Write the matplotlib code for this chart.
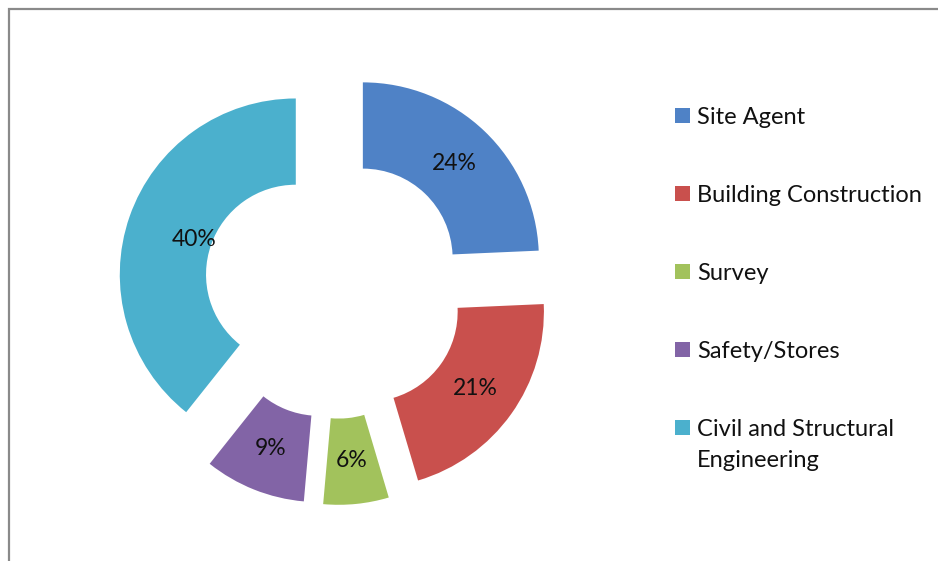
import matplotlib
matplotlib.use("Agg")
import matplotlib.pyplot as plt
import numpy as np
from matplotlib.patches import Rectangle

# data
labels = ["Site Agent", "Building Construction", "Survey", "Safety/Stores",
          "Civil and Structural\nEngineering"]
# wedge sizes as drawn (measured from the slice angles) and the printed labels
shares = [24.3, 21.1, 6.0, 9.3, 39.3]
pct_labels = ["24%", "21%", "6%", "9%", "40%"]
colors = ["#4F82C6", "#C9504D", "#A2C25C", "#8264A6", "#4BB0CD"]

W, H = 938, 561
fig = plt.figure(figsize=(W / 100, H / 100), dpi=100)
plt.rcParams["font.family"] = ["Lato", "DejaVu Sans"]

# outer frame (cut off at right and bottom like the source)
fig.patches.append(Rectangle((9 / W, -0.1), 1.2, 1 - 9 / H + 0.1, transform=fig.transFigure,
                             fill=False, edgecolor="#8a8a8a", linewidth=1.6))

# square axes centred on the ring; 1 data unit = outer radius (176 px)
S = 540
R = 176
cx, cy = 334.5, H - 288
ax = fig.add_axes([(cx - S / 2) / W, (cy - S / 2) / H, S / W, S / H])
lab_iter = iter(pct_labels)
wedges, _, autotexts = ax.pie(
    shares, colors=colors, startangle=90, counterclock=False,
    explode=[0.233] * len(shares), radius=1.0,
    wedgeprops=dict(width=0.49, linewidth=0),
    autopct=lambda p: next(lab_iter), pctdistance=0.75,
    textprops=dict(fontsize=16.5, color="#111111"),
)
# Excel pulls the label of the big slice further in
label_r = [0.75, 0.75, 0.75, 0.75, 0.61]
for w, t, r in zip(wedges, autotexts, label_r):
    a = np.deg2rad((w.theta1 + w.theta2) / 2)
    x0, y0 = w.center
    t.set_position((x0 + r * np.cos(a), y0 + r * np.sin(a)))

L = S / 2 / R
ax.set_xlim(-L, L)
ax.set_ylim(-L, L)
ax.set_aspect("equal")
ax.axis("off")

# legend, laid out like the source (marker level with the first text line)
fs = 17
em = fs / 72 * 100
box = 15
for i, (lab, col) in enumerate(zip(labels, colors)):
    yc = H - (115.5 + 78 * i)
    fig.patches.append(Rectangle((675 / W, (yc - box / 2) / H), box / W, box / H,
                                 transform=fig.transFigure, facecolor=col, edgecolor="none"))
    fig.text(697 / W, (yc + 0.5 * em - 3) / H, lab, fontsize=fs, va="top", ha="left",
             color="#111111", linespacing=1.63)

fig.savefig("out.png", dpi=100)
